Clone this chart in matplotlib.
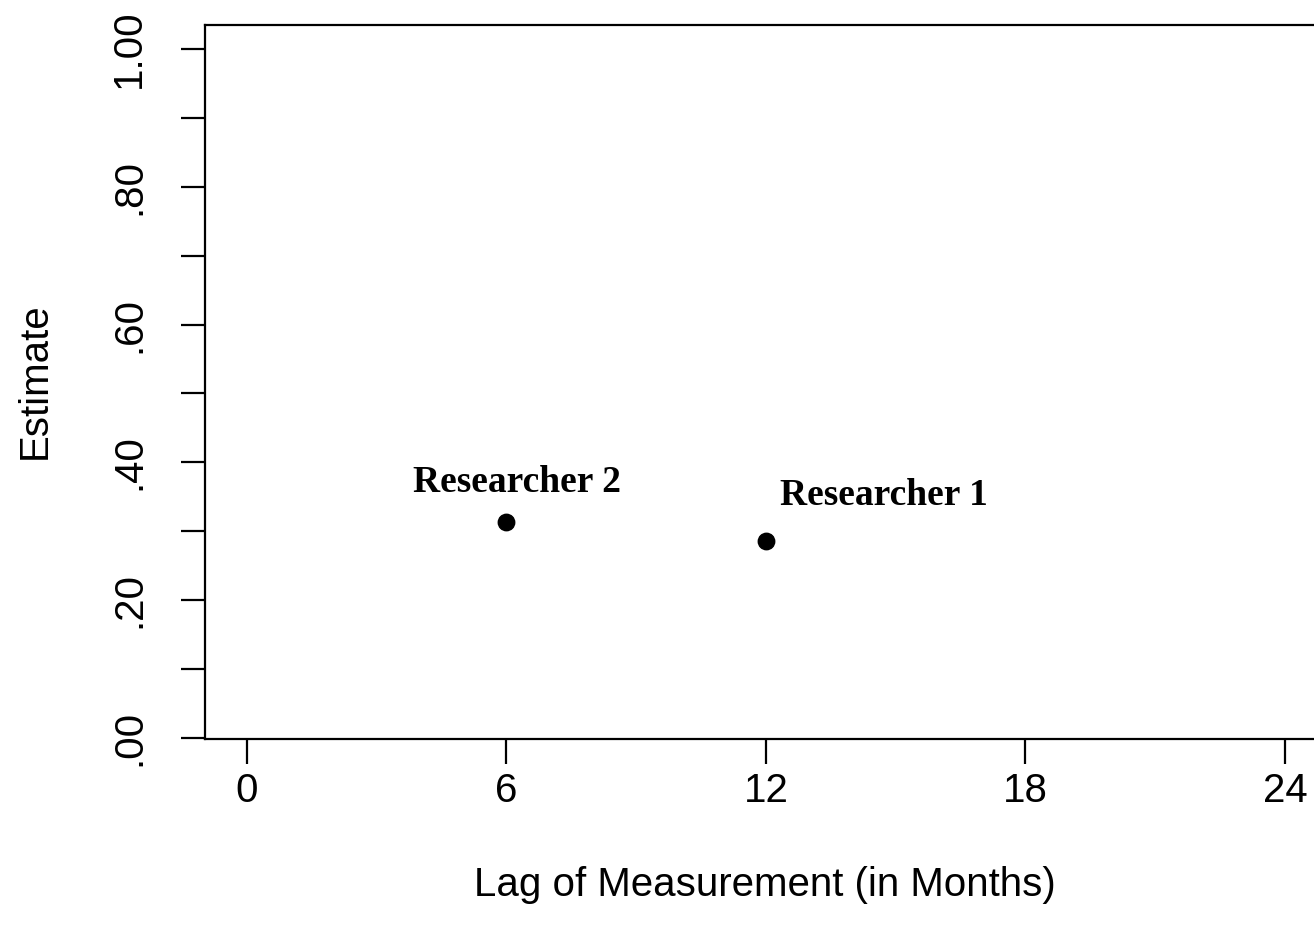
import matplotlib
matplotlib.use("Agg")
import matplotlib.pyplot as plt

# data
lags = [12, 6]
estimates = [0.286, 0.313]
labels = ["Researcher 1", "Researcher 2"]
label_x = [14.73, 6.24]
label_y = [0.338, 0.357]
x_ticks = [0, 6, 12, 18, 24]
y_ticks = [0.0, 0.1, 0.2, 0.3, 0.4, 0.5, 0.6, 0.7, 0.8, 0.9, 1.0]
y_ticklabels = [".00", "", ".20", "", ".40", "", ".60", "", ".80", "", "1.00"]

W, H = 1314, 941
fig = plt.figure(figsize=(W / 100, H / 100), dpi=100)
plt.rcParams['font.family'] = ['Liberation Sans', 'DejaVu Sans']

xlim = (-0.97, 25.2)
ylim = (-0.002, 1.035)
px_per_x = 43.25
left_px, bottom_px, top_px = 205, 739, 25
width_px = (xlim[1] - xlim[0]) * px_per_x
ax = fig.add_axes([left_px / W, (H - bottom_px) / H, width_px / W, (bottom_px - top_px) / H])
ax.set_xlim(*xlim)
ax.set_ylim(*ylim)

ax.scatter(lags, estimates, s=140, color="black", zorder=3)
for t, x, y in zip(labels, label_x, label_y):
    ax.text(x, y, t, ha="center", va="baseline", fontsize=27, fontweight="bold",
            family=["Liberation Serif", "DejaVu Serif"])

for s in ax.spines.values():
    s.set_linewidth(1.6)

ax.set_xticks(x_ticks)
ax.set_xticklabels([str(v) for v in x_ticks])
ax.set_yticks(y_ticks)
ax.set_yticklabels(y_ticklabels, rotation=90, va="center")
ax.tick_params(axis="x", length=18, width=1.6, pad=6, labelsize=29)
ax.tick_params(axis="y", length=17, width=1.6, pad=24, labelsize=29)

# axis titles placed in figure coordinates
fig.text(765 / W, 1 - 885 / H, "Lag of Measurement (in Months)", ha="center", va="center", fontsize=29)
fig.text(35 / W, 1 - 381 / H, "Estimate", ha="center", va="center", fontsize=29, rotation=90)

fig.savefig("out.png", dpi=100)
